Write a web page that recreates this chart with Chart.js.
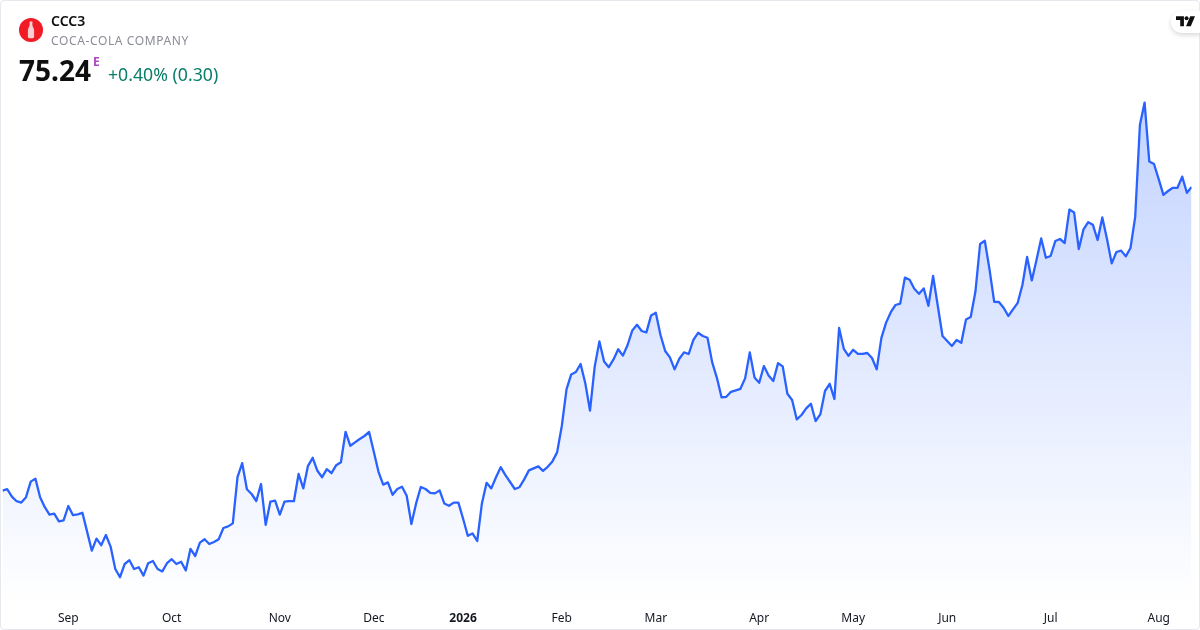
<!DOCTYPE html>
<html>
<head>
<meta charset="utf-8">
<script src="https://cdn.jsdelivr.net/npm/chart.js@4"></script>
<style>
html,body{margin:0;padding:0;background:#fff;width:1200px;height:630px;overflow:hidden}
body{font-family:"Noto Sans","Open Sans",sans-serif;position:relative}
#frame{position:absolute;left:0;top:0;width:1198px;height:628px;border:1px solid #e6e8ee;border-radius:4px}
canvas{position:absolute;left:0;top:0}
.t{position:absolute;white-space:nowrap;line-height:1}
#logo{position:absolute;left:19px;top:18px;width:24px;height:24px}
#tv{position:absolute;left:1171px;top:11px;width:29px;height:22px;background:#fff;border-radius:11px 0 0 11px;box-shadow:0 2px 5px rgba(0,0,0,.16)}
</style>
</head>
<body>
<canvas id="c" width="1200" height="630"></canvas>
<div id="frame"></div>
<svg id="logo" viewBox="0 0 24 24"><circle cx="12" cy="12" r="12" fill="#f01b24"/><path d="M10.6 3.5h2.8v3.7c0 1.6 1.7 2.6 1.7 5v6.4c0 1-.6 1.6-1.5 1.6h-3.2c-.9 0-1.5-.6-1.5-1.6v-6.4c0-2.4 1.7-3.4 1.7-5z" fill="#f8cfd0"/></svg>
<div class="t" style="left:51px;top:14px;font-size:14px;font-weight:600;color:#0f0f0f">CCC3</div>
<div class="t" style="left:51px;top:35px;font-size:12px;color:#8a8d96;letter-spacing:.62px">COCA-COLA COMPANY</div>
<div class="t" style="left:19px;top:56px;font-size:28px;font-weight:700;color:#0f0f0f">75.24</div>
<div class="t" style="left:93px;top:56px;font-size:12px;font-weight:700;color:#ab47bc">E</div>
<div class="t" style="left:108px;top:66px;font-size:17.7px;color:#0b7d6b">+0.40% (0.30)</div>
<div id="tv"><svg style="position:absolute;left:5px;top:5px" width="19" height="11" viewBox="0 0 18 10"><path d="M0 0h7.5v9.5H4V3.5H0z" fill="#0f0f0f"/><circle cx="10" cy="2" r="1.9" fill="#0f0f0f"/><path d="M13.5 0H18l-4 9.5H9.5z" fill="#0f0f0f"/></svg></div>
<script>
const prices = [
60.06,60.13,59.76,59.53,59.46,59.73,60.51,60.66,59.73,59.23,58.86,58.91,58.52,58.57,59.29,58.83,58.87,58.95,58.01,57.06,
57.66,57.33,57.84,57.26,56.14,55.73,56.39,56.58,56.14,56.23,55.81,56.43,56.54,56.14,56.02,56.43,56.63,56.39,56.50,56.07,
57.15,56.79,57.46,57.63,57.39,57.49,57.63,58.19,58.27,58.42,60.73,61.43,60.13,59.89,59.54,60.39,58.35,59.51,59.56,58.86,
59.51,59.53,59.53,60.89,60.17,61.30,61.70,61.05,60.73,61.13,60.93,61.33,61.48,63.00,62.30,62.47,62.64,62.79,62.99,62.00,
61.00,60.36,60.47,59.85,60.14,60.25,59.80,58.39,59.42,60.24,60.14,59.95,59.92,60.07,59.42,59.30,59.46,59.46,58.65,57.80,
57.92,57.54,59.42,60.45,60.17,60.73,61.23,60.83,60.49,60.14,60.23,60.62,61.07,61.17,61.27,61.05,61.25,61.52,61.97,63.29,
65.12,65.87,65.99,66.39,65.43,64.06,66.26,67.52,66.51,66.23,66.62,67.13,66.81,67.34,68.07,68.35,68.04,67.97,68.82,68.95,
67.84,67.04,66.72,66.12,66.65,66.97,66.89,67.60,67.95,67.79,67.70,66.47,65.70,64.72,64.75,65.00,65.07,65.15,65.67,66.97,
65.72,65.45,66.29,65.82,65.54,66.43,66.27,64.90,64.59,63.62,63.84,64.17,64.40,63.54,63.87,65.04,65.40,64.64,68.19,67.15,
66.80,67.10,66.90,66.90,66.94,66.69,66.12,67.70,68.46,68.98,69.34,69.41,70.71,70.60,70.15,69.90,70.17,69.30,70.79,69.29,
67.79,67.54,67.29,67.59,67.45,68.62,68.74,70.00,72.39,72.55,71.12,69.50,69.49,69.20,68.79,69.12,69.45,70.34,71.74,70.57,
71.59,72.67,71.70,71.79,72.54,72.64,72.44,74.11,73.97,72.14,73.12,73.48,73.35,72.59,73.72,72.64,71.42,71.99,72.06,71.77,
72.19,73.75,78.34,79.46,76.51,76.39,75.63,74.85,75.04,75.20,75.20,75.76,74.95,75.24];
const tickIndex = [14,36,59,79,98,119,139,161,181,201,223,246];
const tickLabels = ["Sep","Oct","Nov","Dec","2026","Feb","Mar","Apr","May","Jun","Jul","Aug"];
const boldTick = "2026";

const points = prices.map((v,i)=>({x:i,y:v}));
function fillGradient(ctx){
  const c = ctx.chart;
  if(!c.chartArea) return "rgba(41,98,255,0.1)";
  const g = c.ctx.createLinearGradient(0,100,0,c.chartArea.bottom);
  g.addColorStop(0,"rgba(41,98,255,0.28)");
  g.addColorStop(1,"rgba(41,98,255,0)");
  return g;
}
new Chart(document.getElementById("c"),{
  type:"line",
  data:{datasets:[{data:points,borderColor:"#2962FF",borderWidth:2.3,pointRadius:0,tension:0,fill:"start",backgroundColor:fillGradient,borderJoinStyle:"round"}]},
  options:{
    responsive:false,animation:false,devicePixelRatio:1,
    layout:{padding:{left:2.5,right:8.4,top:0,bottom:0}},
    plugins:{legend:{display:false},tooltip:{enabled:false}},
    scales:{
      x:{type:"linear",min:0,max:prices.length-1,
        grid:{display:false},border:{display:false},
        afterBuildTicks:a=>{a.ticks=tickIndex.map(v=>({value:v}));},
        afterFit:a=>{a.height=26;},
        ticks:{autoSkip:false,maxRotation:0,minRotation:0,padding:-1,color:"#131722",
          callback:v=>tickLabels[tickIndex.indexOf(v)],
          font:ctx=>{const l=ctx.tick&&tickLabels[tickIndex.indexOf(ctx.tick.value)];
            return {family:'"Noto Sans"',size:12,weight:l===boldTick?"700":"400"};}
        }
      },
      y:{display:false,min:54.39,max:84.59}
    }
  }
});
</script>
</body>
</html>
